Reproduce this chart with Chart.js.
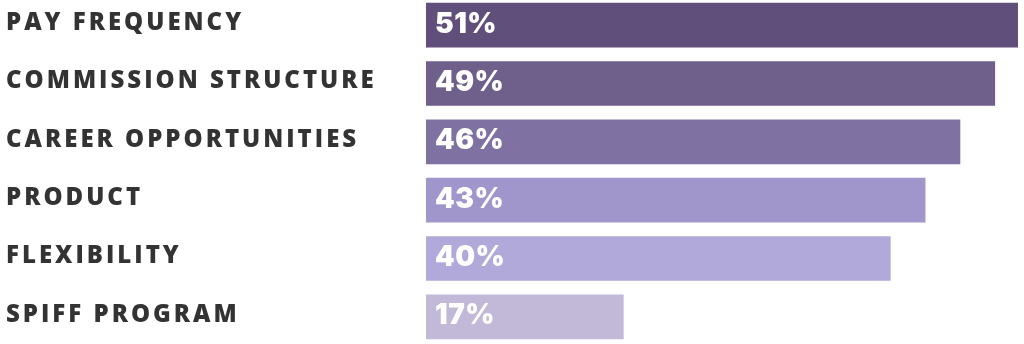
<!DOCTYPE html>
<html>
<head>
<meta charset="utf-8">
<script src="https://cdn.jsdelivr.net/npm/chart.js@4"></script>
<style>
  html, body { margin: 0; padding: 0; background: #fff; overflow: hidden; }
  #myChart { display: block; margin-top: -4px; }
</style>
</head>
<body>
<canvas id="myChart" width="1024" height="350"></canvas>
<script>
const factors = ["PAY FREQUENCY", "COMMISSION STRUCTURE", "CAREER OPPORTUNITIES", "PRODUCT", "FLEXIBILITY", "SPIFF PROGRAM"]
const shares = [51, 49, 46, 43, 40, 17]
const barColors = ["#604f7b", "#6f5f8b", "#7f72a3", "#a196cc", "#b2a9db", "#c2b8d8"]

// spaced-out capitals for the category names
const tracking = {
  id: "tracking",
  beforeDraw(chart) {
    chart.ctx.letterSpacing = "3px"
  }
}

// white percentage written at the start of each bar
const valueLabels = {
  id: "valueLabels",
  afterDatasetsDraw(chart) {
    let ctx = chart.ctx
    let meta = chart.getDatasetMeta(0)
    ctx.save()
    ctx.letterSpacing = "0.5px"
    ctx.fillStyle = "#ffffff"
    ctx.font = "900 28px Inter"
    ctx.textAlign = "left"
    ctx.textBaseline = "middle"
    meta.data.forEach((bar, i) => {
      ctx.fillText(shares[i] + "%", bar.base + 9, bar.y - 1)
    })
    ctx.restore()
  }
}

let ctx = document.getElementById("myChart").getContext("2d")
let chart = new Chart(ctx, {
  type: "bar",
  data: {
    labels: factors,
    datasets: [{
      data: shares,
      backgroundColor: barColors,
      borderWidth: 0,
      barThickness: 44
    }]
  },
  options: {
    indexAxis: "y",
    responsive: false,
    animation: false,
    layout: { padding: { left: 6, right: 6, top: 0, bottom: 0 } },
    plugins: { legend: { display: false }, tooltip: { enabled: false } },
    scales: {
      x: { display: false, min: 0, max: 51 },
      y: {
        grid: { display: false, drawTicks: false },
        border: { display: false },
        afterFit: scale => {
          scale.width = 420
          scale.paddingTop = 0
          scale.paddingBottom = 0
        },
        ticks: {
          autoSkip: false,
          crossAlign: "far",
          color: "#333333",
          padding: 0,
          labelOffset: -2,
          font: { family: "'Open Sans'", size: 24, weight: "800" }
        }
      }
    }
  },
  plugins: [tracking, valueLabels]
})
</script>
</body>
</html>
